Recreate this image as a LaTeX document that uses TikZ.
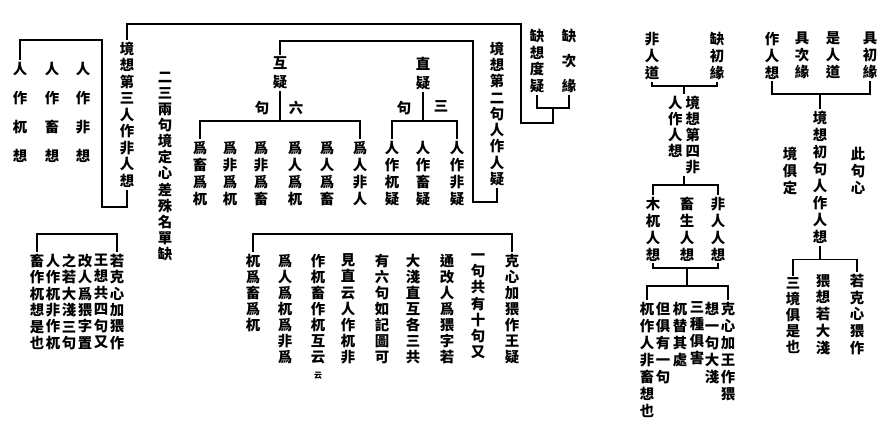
\documentclass[tikz,border=0pt]{standalone}
\usepackage{fontspec}
\newfontfamily\cjk{Noto Sans CJK TC Black}
\usetikzlibrary{positioning,calc}
\newdimen\px \px=0.75pt
\let\vtend\relax
\def\vtnext#1{\ifx#1\vtend\else\hbox to 1em{\hss#1\hss}\expandafter\vtnext\fi}
\newcommand\vtext[2][16]{\vtop{\baselineskip=#1\px\lineskiplimit=-\maxdimen\lineskip=0pt\vtnext#2\vtend}}
\newcommand\smk{{\fontsize{6}{6}\selectfont 云}}
\tikzset{
col/.style = {anchor=north, inner sep=0pt, outer sep=1.5pt, font=\cjk\fontsize{10.8}{12}\selectfont},
}

\begin{document}
\begin{tikzpicture}[x=0.75pt, y=-0.75pt, line width=1pt]
\useasboundingbox (0,0) rectangle (888,427);

\node [col] (k3) at (127,40) {\vtext[16.5]{境想第三人作非人想}};
\node [col] (k3a) at (83,60) {\vtext[29]{人作非想}};
\node [col] (k3b) at (52,60) {\vtext[29]{人作畜想}};
\node [col] (k3c) at (20,60) {\vtext[29]{人作杌想}};
\node [col] (note23) at (165,70) {\vtext[16.1]{二三兩句境定心差殊名單缺}};

\node [col] (q1) at (537,27) {\vtext[16.7]{缺想度疑}};
\node [col] (q2) at (569,27) {\vtext[25]{缺次緣}};
\node [col] (k2) at (497,40) {\vtext[16.25]{境想第二句人作人疑}};

\node [col] (hy) at (280,55) {\vtext[19]{互疑}};
\node [col] (hy1) at (262,99) {句};
\node [col] (hy2) at (296,99) {六};
\node [col] (zy) at (423,55) {\vtext[19]{直疑}};
\node [col] (zy1) at (404,99) {句};
\node [col] (zy2) at (441,99) {三};

\node [col] (h1) at (360,139) {\vtext[17]{爲人非人}};
\node [col] (h2) at (327,139) {\vtext[17]{爲人爲畜}};
\node [col] (h3) at (295,139) {\vtext[17]{爲人爲杌}};
\node [col] (h4) at (261,139) {\vtext[17]{爲非爲畜}};
\node [col] (h5) at (230,139) {\vtext[17]{爲非爲杌}};
\node [col] (h6) at (200,139) {\vtext[17]{爲畜爲杌}};
\node [col] (z1) at (457,139) {\vtext[17]{人作非疑}};
\node [col] (z2) at (423,139) {\vtext[17]{人作畜疑}};
\node [col] (z3) at (392,139) {\vtext[17]{人作杌疑}};

\node [col] (b1) at (512,252) {\vtext[16.1]{克心加猥作王疑}};
\node [col] (b2) at (478,252) {\vtext[16.1]{一句共有十句又}};
\node [col] (b3) at (447,252) {\vtext[16.1]{通改人爲猥字若}};
\node [col] (b4) at (413,252) {\vtext[16.1]{大淺直互各三共}};
\node [col] (b5) at (382,252) {\vtext[16.1]{有六句如記圖可}};
\node [col] (b6) at (348,252) {\vtext[16.1]{見直云人作杌非}};
\node [col] (b7) at (318,252) {\vtext[16.1]{作杌畜作杌互云\smk}};
\node [col] (b8) at (285,252) {\vtext[16.1]{爲人爲杌爲非爲}};
\node [col] (b9) at (253,252) {\vtext[16.1]{杌爲畜爲杌}};

\node [col] (a1) at (117,252) {\vtext[16.4]{若克心加猥作}};
\node [col] (a2) at (101,252) {\vtext[16.4]{王想共四句又}};
\node [col] (a3) at (85,252) {\vtext[16.4]{改人爲猥字置}};
\node [col] (a4) at (69,252) {\vtext[16.4]{之若大淺三句}};
\node [col] (a5) at (53,252) {\vtext[16.4]{人作杌非作杌}};
\node [col] (a6) at (37,252) {\vtext[16.4]{畜作杌想是也}};

\node [col] (p1) at (717,30) {\vtext[17]{缺初緣}};
\node [col] (p2) at (652,30) {\vtext[17]{非人道}};
\node [col] (k4) at (684,94) {\vtext[16]{人作人想}\kern3\px\vtext[16]{境想第四非}};
\node [col] (m1) at (653,195) {\vtext[17]{木杌人想}};
\node [col] (m2) at (687,195) {\vtext[17]{畜生人想}};
\node [col] (m3) at (718,195) {\vtext[17]{非人人想}};
\node [col] (g1) at (728,300) {\vtext[17]{克心加王作猥}};
\node [col] (g2) at (712,300) {\vtext[17]{想一句大淺}};
\node [col] (g3) at (697,300) {\vtext[17]{三種俱害}};
\node [col] (g4) at (680,300) {\vtext[17]{杌替其處}};
\node [col] (g5) at (663,300) {\vtext[17]{但俱有一句}};
\node [col] (g6) at (647,300) {\vtext[17]{杌作人非畜想也}};

\node [col] (r1) at (870,30) {\vtext[17]{具初緣}};
\node [col] (r2) at (833,30) {\vtext[17]{是人道}};
\node [col] (r3) at (802,30) {\vtext[17]{具次緣}};
\node [col] (r4) at (772,30) {\vtext[17]{作人想}};
\node [col] (k1) at (820,109) {\vtext[17]{境想初句人作人想}};
\node [col] (s1) at (858,145) {\vtext[17]{此句心}};
\node [col] (s2) at (790,145) {\vtext[17]{境俱定}};
\node [col] (t1) at (857,272) {\vtext[16.75]{若克心猥作}};
\node [col] (t2) at (823,272) {\vtext[16.75]{猥想若大淺}};
\node [col] (t3) at (793,276) {\vtext[16]{三境俱是也}};

\draw (k3c.north) |- (102,40) -- (102,207) -| (k3.south);
\draw (q1.south) |- (553,108) coordinate (qj) -| (q2.south);
\draw (k3.north) |- (521,24) |- (553,123) -- (qj);
\draw (k2.south) |- (473,202) -- (473,41) -| (hy.north);
\coordinate (hj) at (280,121);
\draw (hy.south) -- (hj);
\draw (h6.north) |- (hj) -| (h1.north);
\coordinate (zj) at (423,121);
\draw (zy.south) -- (zj);
\draw (z3.north) |- (zj) -| (z1.north);
\coordinate (bj) at (380,234);
\draw (b9.north) |- (bj) -| (b1.north);
\coordinate (aj) at (77,234);
\draw (a6.north) |- (aj) -| (a1.north);

\draw (p2.south) |- (684,86) coordinate (pj) -| (p1.south);
\draw (pj) -- (k4.north);
\draw (k4.south) -- ++(0,9) coordinate (mj);
\draw (m1.north) |- (mj) -| (m3.north);
\draw (m1.south) |- (687,268) coordinate (gi) -| (m3.south);
\draw (gi) -- ++(0,18) coordinate (gj);
\draw (g6.north) |- (gj) -| (g1.north);
\draw (r4.south) |- (820,94) coordinate (rj) -| (r1.south);
\draw (rj) -- (k1.north);
\draw (k1.south) -- ++(0,14) coordinate (tj);
\draw (t3.north) |- (tj) -| (t1.north);
\end{tikzpicture}
\end{document}
